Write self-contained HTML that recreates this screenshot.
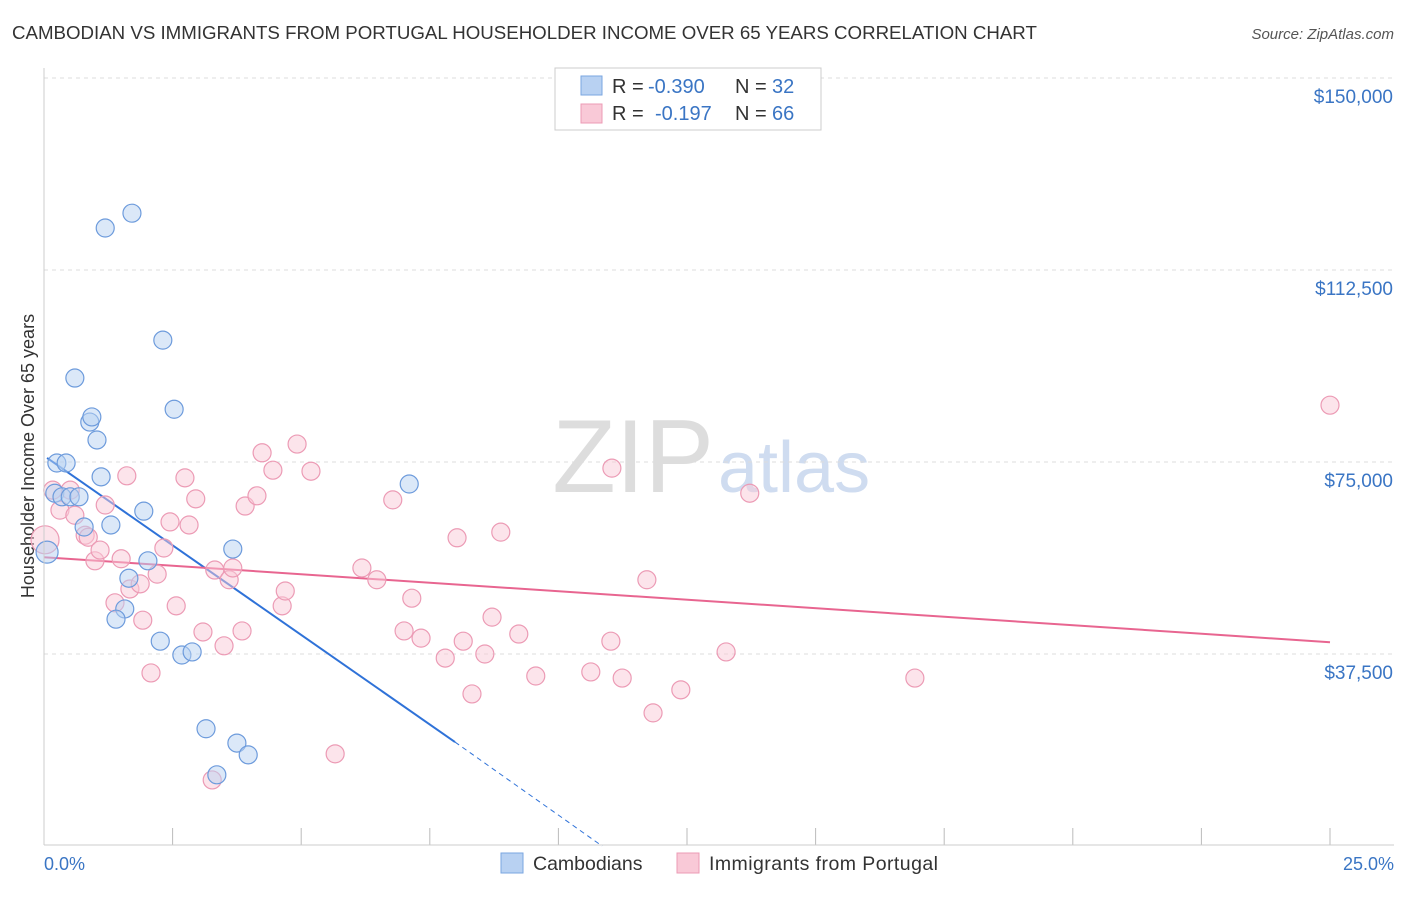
<!DOCTYPE html>
<html><head><meta charset="utf-8"><style>
body{margin:0;background:#fff;font-family:"Liberation Sans",sans-serif;}
svg text{font-family:"Liberation Sans",sans-serif;}
</style></head><body>
<svg id="chart" width="1406" height="892" xmlns="http://www.w3.org/2000/svg">
<text x="12" y="39" font-size="18.7" fill="#333">CAMBODIAN VS IMMIGRANTS FROM PORTUGAL HOUSEHOLDER INCOME OVER 65 YEARS CORRELATION CHART</text>
<text x="1394" y="39" font-size="15" fill="#555" font-style="italic" text-anchor="end">Source: ZipAtlas.com</text>
<text x="714" y="492" font-size="104" fill="#ddd" text-anchor="end" font-family="Liberation Serif">ZIP</text>
<text x="718" y="492" font-size="72" fill="#cfdcf0">atlas</text>
<text transform="translate(34,456) rotate(-90)" font-size="18" fill="#333" text-anchor="middle">Householder Income Over 65 years</text>
<g id="grid"></g><g id="ticks"></g><g id="lines"></g><g id="pts"></g>
<line x1="44" y1="845" x2="1394" y2="845" stroke="#ccc"/>
<line x1="44" y1="68" x2="44" y2="845" stroke="#ccc"/>
<text x="44" y="870" font-size="18" fill="#3a75c4">0.0%</text>
<text x="1394" y="870" font-size="18" fill="#3a75c4" text-anchor="end">25.0%</text>
<g font-size="20">
<rect x="555" y="68" width="266" height="62" fill="#fff" stroke="#ccc"/>
<rect x="581" y="76" width="21" height="19" fill="#b8d1f2" stroke="#7aa6e0"/>
<rect x="581" y="104" width="21" height="19" fill="#f9c9d7" stroke="#ec9bb5"/>
<text x="612" y="93" fill="#333">R =</text><text x="648" y="93" fill="#3a75c4">-0.390</text>
<text x="735" y="93" fill="#333">N =</text><text x="772" y="93" fill="#3a75c4">32</text>
<text x="612" y="120" fill="#333">R =</text><text x="655" y="120" fill="#3a75c4">-0.197</text>
<text x="735" y="120" fill="#333">N =</text><text x="772" y="120" fill="#3a75c4">66</text>
</g>
<g>
<rect x="501" y="853" width="22" height="20" fill="#b8d1f2" stroke="#7aa6e0"/>
<text x="533" y="870" font-size="19.5" fill="#333">Cambodians</text>
<rect x="677" y="853" width="22" height="20" fill="#f9c9d7" stroke="#ec9bb5"/>
<text x="709" y="870" font-size="19.5" fill="#333" textLength="229">Immigrants from Portugal</text>
</g>
</svg>
<script>
const yTicks=[37500,75000,112500,150000];
const yTickLabels=["$37,500","$75,000","$112,500","$150,000"];
const xTicks=[0,2.5,5,7.5,10,12.5,15,17.5,20,22.5,25];
const camX=[0.06,0.25,0.43,0.21,0.35,0.51,0.68,0.60,0.89,0.93,1.03,1.11,0.78,1.30,1.19,1.71,2.31,2.53,1.94,2.02,1.65,1.57,1.40,2.26,2.68,2.88,3.67,3.15,3.75,3.97,3.36,7.10];
const camY=[57400,74800,74800,68900,68200,68200,68200,91400,82800,83800,79300,72100,62300,62700,120700,123600,98800,85300,65400,55700,52300,46300,44300,40000,37300,37900,58000,22900,20100,17800,13900,70700];
const porX=[0.02,0.17,0.51,0.31,0.60,0.80,0.86,0.99,1.09,1.19,1.61,1.50,1.38,1.67,1.87,1.92,2.08,2.20,2.33,2.45,2.57,2.74,2.82,2.95,3.09,3.32,3.50,3.60,3.67,3.85,3.91,4.14,4.24,4.45,4.63,4.69,4.92,5.19,5.66,6.18,6.47,6.78,7.00,7.15,7.33,7.80,8.03,8.15,8.32,8.57,8.71,8.88,9.23,9.56,10.63,11.02,11.04,11.24,11.72,11.84,12.38,13.26,13.72,16.93,25.0,3.27];
const porY=[59800,69500,69500,65600,64600,60700,60300,55700,57800,66600,72300,56100,47500,50200,51200,44100,33800,53100,58200,63300,46900,71900,62700,67800,41800,53900,39100,52000,54300,42000,66400,68400,76800,73400,46900,49800,78500,73200,18000,54300,52000,67600,42000,48400,40600,36700,60200,40000,29700,37500,44700,61300,41400,33200,34000,40000,73800,32800,52000,26000,30500,37900,68900,32800,86100,12900];
const camTrend=[[0.06,75800],[7.99,20300],[10.85,0]];
const porTrend=[[0,56400],[25,39800]];
const X=v=>44+v/25*1286, Y=v=>846-v/37500*192;
const NS="http://www.w3.org/2000/svg";
function mk(tag,attrs,parent){const e=document.createElementNS(NS,tag);for(const k in attrs)e.setAttribute(k,attrs[k]);document.getElementById(parent).appendChild(e);return e;}
yTicks.forEach((t,i)=>{
 const g=mk('line',{x1:44,x2:1394,y1:Y(t),y2:Y(t),stroke:'#ddd','stroke-dasharray':'4,4'},'grid');
 
 
 const l=mk('text',{x:1393,y:Y(t)+25,'font-size':19,fill:'#3a75c4','text-anchor':'end'},'ticks');
 l.textContent=yTickLabels[i];
 
 
});
xTicks.forEach(t=>{
 const e=mk('line',{x1:X(t),x2:X(t),y1:828,y2:845,stroke:'#bbb'},'ticks');
 
 
});
function pts(xs,ys,fill,stroke,name){xs.forEach((x,i)=>{
 const r=(i===0)?(name==='portugal-point'?14:11):9;
 const c=mk('circle',{cx:X(x),cy:Y(ys[i]),r:r,fill:fill,'fill-opacity':0.5,stroke:stroke,'stroke-width':1.2},'pts');
 
 
});}
pts(porX,porY,'#f9c9d7','#ec9bb5','portugal-point');
pts(camX,camY,'#b8d1f2','#6d9bdc','cambodian-point');
let a=mk('line',{x1:X(camTrend[0][0]),y1:Y(camTrend[0][1]),x2:X(camTrend[1][0]),y2:Y(camTrend[1][1]),stroke:'#2f72d8','stroke-width':2},'lines');


let b=mk('line',{x1:X(camTrend[1][0]),y1:Y(camTrend[1][1]),x2:X(camTrend[2][0]),y2:Y(camTrend[2][1]),stroke:'#2f72d8','stroke-width':1,'stroke-dasharray':'5,4'},'lines');


let p=mk('line',{x1:X(porTrend[0][0]),y1:Y(porTrend[0][1]),x2:X(porTrend[1][0]),y2:Y(porTrend[1][1]),stroke:'#e86590','stroke-width':2},'lines');


</script>
</body></html>
